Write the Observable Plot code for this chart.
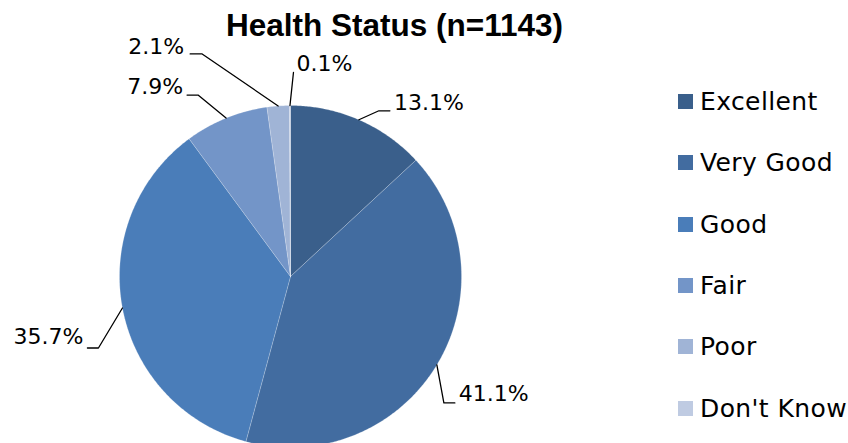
<!DOCTYPE html>
<html>
<head>
<meta charset="utf-8">
<script src="https://cdn.jsdelivr.net/npm/d3@7"></script>
<script src="https://cdn.jsdelivr.net/npm/@observablehq/plot@0.6"></script>
<style>
  html, body { margin: 0; padding: 0; background: #fff; }
  #wrap { position: relative; width: 848px; height: 443px; overflow: hidden; font-family: "DejaVu Sans", sans-serif; color: #000; }
  #title { position: absolute; left: 0; top: 0; width: 789px; height: 45px; box-sizing: border-box; padding-top: 6px; line-height: 39px; text-align: center;
           font-family: "Liberation Sans", Arial, sans-serif; font-weight: bold; font-size: 31.5px; }
  #chart { position: absolute; left: 0; top: 0; }
  #legend { position: absolute; left: 678px; top: 71px; }
  .row { height: 61.3px; display: flex; align-items: center; font-size: 25px; letter-spacing: 0.4px; white-space: nowrap; }
  .sw { width: 15px; height: 15px; margin-right: 7px; flex: none; }
</style>
</head>
<body>
<div id="wrap">
  <div id="chart"></div>
  <div id="title">Health Status (n=1143)</div>
  <div id="legend"></div>
</div>
<script>
// ---- data ----
const categories = ["Excellent", "Very Good", "Good", "Fair", "Poor", "Don't Know"];
const values = [13.1, 41.1, 35.7, 7.9, 2.1, 0.1];
const labels = ["13.1%", "41.1%", "35.7%", "7.9%", "2.1%", "0.1%"];
const colors = ["#3a5f8b", "#426ca0", "#4a7db9", "#7395c8", "#a0b4d6", "#bfcbe2"];

// ---- layout (pixel offsets of leader elbows / label anchors from slice edge midpoint) ----
const leaderLayout = [
  {elbow: [20, -9],  end: [31, -9],  text: [35, -17],   anchor: "start"},
  {elbow: [7, 38],   end: [18, 38],  text: [22, 29],    anchor: "start"},
  {elbow: [-24, 40], end: [-35, 40], text: [-39, 29],   anchor: "end"},
  {elbow: [-28, -23],end: [-39, -23],text: [-43, -31.5],anchor: "end"},
  {elbow: [-76, -52],end: [-88, -52],text: [-94, -58.5],anchor: "end"},
  {elbow: [3.5, -33],end: [3.5, -33],text: [6.5, -41.5],anchor: "start"}
];
const R = 171; // pie radius in px
const svgH = 443;

const rows = categories.map((c, i) => ({cat: c, value: values[i], label: labels[i]}));
const arcs = d3.pie().sort(null).value(d => d.value)(rows);

// pie polygons
const piePts = [];
arcs.forEach(a => {
  const cat = a.data.cat;
  piePts.push({x: 0, y: 0, cat});
  const n = Math.max(2, Math.ceil((a.endAngle - a.startAngle) / (Math.PI / 360)));
  for (let k = 0; k <= n; k++) {
    const t = a.startAngle + (a.endAngle - a.startAngle) * k / n;
    piePts.push({x: Math.sin(t), y: Math.cos(t), cat});
  }
  piePts.push({x: 0, y: 0, cat});
});

// leaders and labels
const leaderPts = [];
const labelRows = [];
arcs.forEach((a, i) => {
  const m = (a.startAngle + a.endAngle) / 2;
  const sx = Math.sin(m), sy = Math.cos(m);
  const L = leaderLayout[i];
  const conv = p => ({x: sx + p[0] / R, y: sy - p[1] / R});
  leaderPts.push({x: sx, y: sy, cat: a.data.cat});
  const e1 = conv(L.elbow), e2 = conv(L.end);
  leaderPts.push({...e1, cat: a.data.cat});
  leaderPts.push({...e2, cat: a.data.cat});
  const tp = conv(L.text);
  labelRows.push({x: tp.x, y: tp.y, label: a.data.label, anchor: L.anchor});
});

const chart = Plot.plot({
  width: 848,
  height: svgH,
  margin: 0,
  x: {domain: [-1, 1], range: [290 - R, 290 + R], axis: null},
  y: {domain: [-1, 1], range: [276 + R, 276 - R], axis: null},
  color: {domain: categories, range: colors},
  style: {fontFamily: "DejaVu Sans, sans-serif", background: "white", overflow: "hidden"},
  marks: [
    Plot.line(piePts, {x: "x", y: "y", z: "cat", fill: "cat", stroke: "white", strokeWidth: 0.4, strokeOpacity: 0.5, curve: "linear"}),
    Plot.line(leaderPts, {x: "x", y: "y", z: "cat", stroke: "#000", strokeWidth: 1.3, curve: "linear"}),
    Plot.text(labelRows.filter(d => d.anchor === "start"), {x: "x", y: "y", text: "label", textAnchor: "start", lineAnchor: "middle", fontSize: 22, fill: "#000"}),
    Plot.text(labelRows.filter(d => d.anchor === "end"), {x: "x", y: "y", text: "label", textAnchor: "end", lineAnchor: "middle", fontSize: 22, fill: "#000"})
  ]
});
document.getElementById("chart").appendChild(chart);

// legend
const leg = document.getElementById("legend");
categories.forEach((c, i) => {
  const r = document.createElement("div");
  r.className = "row";
  const s = document.createElement("span");
  s.className = "sw";
  s.style.background = colors[i];
  const t = document.createElement("span");
  t.textContent = c;
  r.appendChild(s); r.appendChild(t);
  leg.appendChild(r);
});
</script>
</body>
</html>
